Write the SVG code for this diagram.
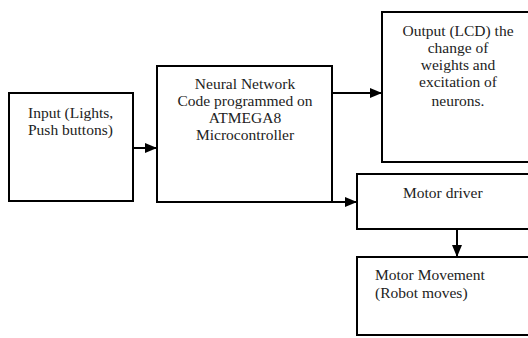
<svg xmlns="http://www.w3.org/2000/svg" width="528" height="338" viewBox="0 0 528 338">
  <defs>
    <marker id="arrow" markerWidth="12" markerHeight="10" refX="12" refY="5" orient="auto" markerUnits="userSpaceOnUse">
      <path d="M0,0 L12,5 L0,10 Z" fill="#000"/>
    </marker>
    <style>
      .box { fill: #fff; stroke: #000; stroke-width: 2; }
      .lbl { font-size: 15.5px; fill: #222; }
      .mid { text-anchor: middle; }
      .wire { fill: none; stroke: #000; stroke-width: 2; }
    </style>
  </defs>
  <rect width="528" height="338" fill="#fff"/>

  <g font-family="Liberation Serif, DejaVu Serif, serif">
  <g id="input">
    <rect class="box" x="9" y="93" width="124" height="108"/>
    <text class="lbl" x="28" y="118">Input (Lights,</text>
    <text class="lbl" x="28" y="135">Push buttons)</text>
  </g>

  <g id="neural-network">
    <rect class="box" x="157" y="66" width="175" height="136"/>
    <text class="lbl mid" x="245" y="89">Neural Network</text>
    <text class="lbl mid" x="245" y="106">Code programmed on</text>
    <text class="lbl mid" x="245" y="123">ATMEGA8</text>
    <text class="lbl mid" x="245" y="140">Microcontroller</text>
  </g>

  <g id="output-lcd">
    <rect class="box" x="382" y="12" width="160" height="150"/>
    <text class="lbl mid" x="458" y="36">Output (LCD) the</text>
    <text class="lbl mid" x="458" y="53">change of</text>
    <text class="lbl mid" x="458" y="70">weights and</text>
    <text class="lbl mid" x="458" y="87">excitation of</text>
    <text class="lbl mid" x="458" y="106">neurons.</text>
  </g>

  <g id="motor-driver">
    <rect class="box" x="357" y="174" width="185" height="55"/>
    <text class="lbl" x="403" y="198">Motor driver</text>
  </g>

  <g id="motor-movement">
    <rect class="box" x="357" y="257" width="185" height="78"/>
    <text class="lbl" x="375" y="280">Motor Movement</text>
    <text class="lbl" x="375" y="298">(Robot moves)</text>
  </g>
  </g>

  <g id="connectors">
    <line class="wire" x1="133" y1="148" x2="157" y2="148" marker-end="url(#arrow)"/>
    <line class="wire" x1="332" y1="93" x2="382" y2="93" marker-end="url(#arrow)"/>
    <line class="wire" x1="332" y1="202" x2="357" y2="202" marker-end="url(#arrow)"/>
    <line class="wire" x1="457" y1="229" x2="457" y2="257" marker-end="url(#arrow)"/>
  </g>
</svg>
